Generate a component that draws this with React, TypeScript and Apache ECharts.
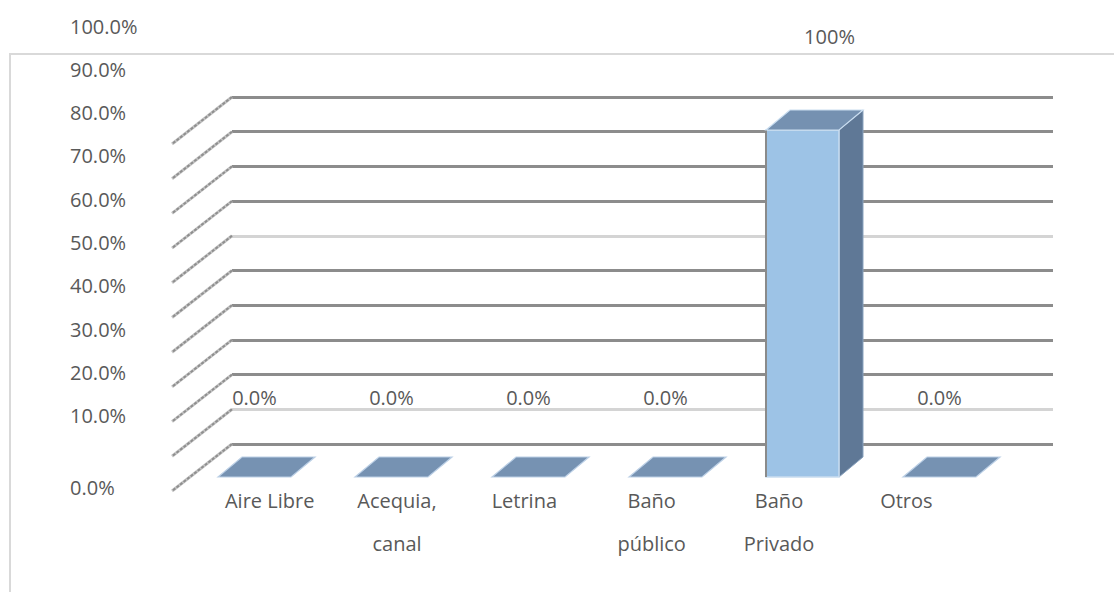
import React, { useEffect, useRef } from "react";
import * as echarts from "echarts";

const categories = ["Aire Libre", "Acequia, canal", "Letrina", "Baño público", "Baño Privado", "Otros"];
const categoryLabels = ["Aire Libre", "Acequia,\ncanal", "Letrina", "Baño\npúblico", "Baño\nPrivado", "Otros"];
const values = [0, 0, 0, 0, 100, 0];
const valueLabels = ["0.0%", "0.0%", "0.0%", "0.0%", "100%", "0.0%"];
const yTicks = [0, 10, 20, 30, 40, 50, 60, 70, 80, 90, 100];
const yTickLabels = ["0.0%", "10.0%", "20.0%", "30.0%", "40.0%", "50.0%", "60.0%", "70.0%", "80.0%", "90.0%", "100.0%"];

const FONT = "'Open Sans', 'Liberation Sans', sans-serif";
const TEXT = "#595959";
const DARK = "#8c8c8c";
const LIGHT = "#d4d4d4";
const gridColors = [DARK, LIGHT, DARK, DARK, DARK, DARK, LIGHT, DARK, DARK, DARK, DARK];
const DX = 24;
const DY = -20;

export default function App() {
  const ref = useRef<HTMLDivElement>(null);
  useEffect(() => {
    if (!ref.current) return;
    const chart = echarts.init(ref.current, null, { renderer: "svg" });
    const option: any = {
      animation: false,
      backgroundColor: "#ffffff",
      graphic: [
        {
          type: "rect",
          silent: true,
          z: -10,
          shape: { x: 10, y: 54, width: 1300, height: 700 },
          style: { fill: "none", stroke: "#d9d9d9", lineWidth: 2 },
        },
      ],
      grid: [
        { left: 232, right: 61, top: 97, bottom: 148 },
        { left: 186, right: 106, top: 130, bottom: 115 },
        { left: 140, right: 900, top: 26, bottom: 133 },
        { left: 206, right: 144, top: 130, bottom: 115 },
      ],
      xAxis: [
        { gridIndex: 0, type: "value", min: 0, max: 1, show: false },
        { gridIndex: 1, type: "category", data: categories, show: false },
        { gridIndex: 2, type: "value", min: 0, max: 1, show: false },
        {
          gridIndex: 3,
          type: "category",
          data: categoryLabels,
          axisLine: { show: false },
          axisTick: { show: false },
          splitLine: { show: false },
          axisLabel: {
            interval: 0,
            margin: 2,
            color: TEXT,
            fontSize: 20,
            fontFamily: FONT,
            lineHeight: 43,
          },
        },
      ],
      yAxis: [
        {
          gridIndex: 0,
          type: "value",
          min: 0,
          max: 100,
          interval: 10,
          axisLabel: { show: false },
          axisLine: { show: false },
          axisTick: { show: false },
          splitLine: { show: true, lineStyle: { color: gridColors, width: 3 } },
        },
        { gridIndex: 1, type: "value", min: 0, max: 100, show: false },
        {
          gridIndex: 2,
          type: "value",
          min: 0,
          max: 100,
          interval: 10,
          axisLine: { show: false },
          axisTick: { show: false },
          splitLine: { show: false },
          axisLabel: {
            align: "left",
            margin: 70,
            color: TEXT,
            fontSize: 20,
            fontFamily: FONT,
            formatter: (v: number) => {
              const idx = yTicks.indexOf(v);
              const s = yTickLabels[idx];
              return v === 0 ? "{z|" + s + "}" : s;
            },
            rich: {
              z: { color: TEXT, fontSize: 20, fontFamily: FONT, padding: [56, 0, 0, 0] },
            },
          },
        },
        { gridIndex: 3, type: "value", min: 0, max: 1, show: false },
      ],
      series: [
        {
          type: "custom",
          xAxisIndex: 0,
          yAxisIndex: 0,
          silent: true,
          data: yTicks.map((v) => [0, v]),
          renderItem: (params: any, api: any) => {
            const p = api.coord([0, api.value(1)]);
            return {
              type: "group",
              children: [
                {
                  type: "line",
                  shape: { x1: p[0], y1: p[1], x2: p[0] - 60, y2: p[1] + 47 },
                  style: { stroke: "#c4c4c4", lineWidth: 3 },
                },
                {
                  type: "line",
                  shape: { x1: p[0], y1: p[1], x2: p[0] - 60, y2: p[1] + 47 },
                  style: { stroke: "#8f8f8f", lineWidth: 2, lineDash: [3, 1.5] },
                },
              ],
            };
          },
        },
        {
          type: "custom",
          xAxisIndex: 1,
          yAxisIndex: 1,
          silent: true,
          z: 5,
          data: values.map((v, i) => [i, v]),
          renderItem: (params: any, api: any) => {
            const i = api.value(0);
            const v = api.value(1);
            const top = api.coord([i, v]);
            const base = api.coord([i, 0]);
            const band = api.size([1, 0])[0];
            const w = band * 0.533;
            const cx = top[0];
            const x0 = cx - w / 2;
            const x1 = cx + w / 2;
            const yt = top[1];
            const yb = base[1];
            const children: any[] = [];
            if (yb - yt > 0.5) {
              children.push({
                type: "polygon",
                shape: { points: [[x1, yt], [x1 + DX, yt + DY], [x1 + DX, yb + DY], [x1, yb]] },
                style: { fill: "#5f7896", stroke: "#8aa3bf", lineWidth: 1 },
              });
              children.push({
                type: "rect",
                shape: { x: x0, y: yt, width: w, height: yb - yt },
                style: { fill: "#9dc3e6", stroke: "#c9ddf0", lineWidth: 1.5 },
              });
              children.push({
                type: "line",
                shape: { x1: x0, y1: yt, x2: x0, y2: yb },
                style: { stroke: "#8a8a8a", lineWidth: 2 },
              });
              children.push({
                type: "polygon",
                shape: { points: [[x0, yt], [x0 + DX, yt + DY], [x1 + DX, yt + DY], [x1, yt]] },
                style: { fill: "#7591b1", stroke: "#c9ddf0", lineWidth: 1.2 },
              });
            } else {
              children.push({
                type: "polygon",
                shape: { points: [[x0, yb], [x0 + DX, yb + DY], [x1 + DX, yb + DY], [x1, yb]] },
                style: { fill: "#7692b2", stroke: "#bcd0e6", lineWidth: 1.2 },
              });
            }
            children.push({
              type: "text",
              x: cx + 0.27 * v,
              y: yt - 80 - 0.14 * v,
              style: {
                text: valueLabels[params.dataIndex],
                fill: TEXT,
                fontSize: 20,
                fontFamily: FONT,
                align: "center",
                verticalAlign: "middle",
              },
            });
            return { type: "group", children };
          },
        },
      ],
    };
    chart.setOption(option);
    return () => chart.dispose();
  }, []);
  return (
    <div
      ref={ref}
      style={{ position: "fixed", left: 0, top: 0, width: 1114, height: 592, background: "#fff" }}
    />
  );
}
